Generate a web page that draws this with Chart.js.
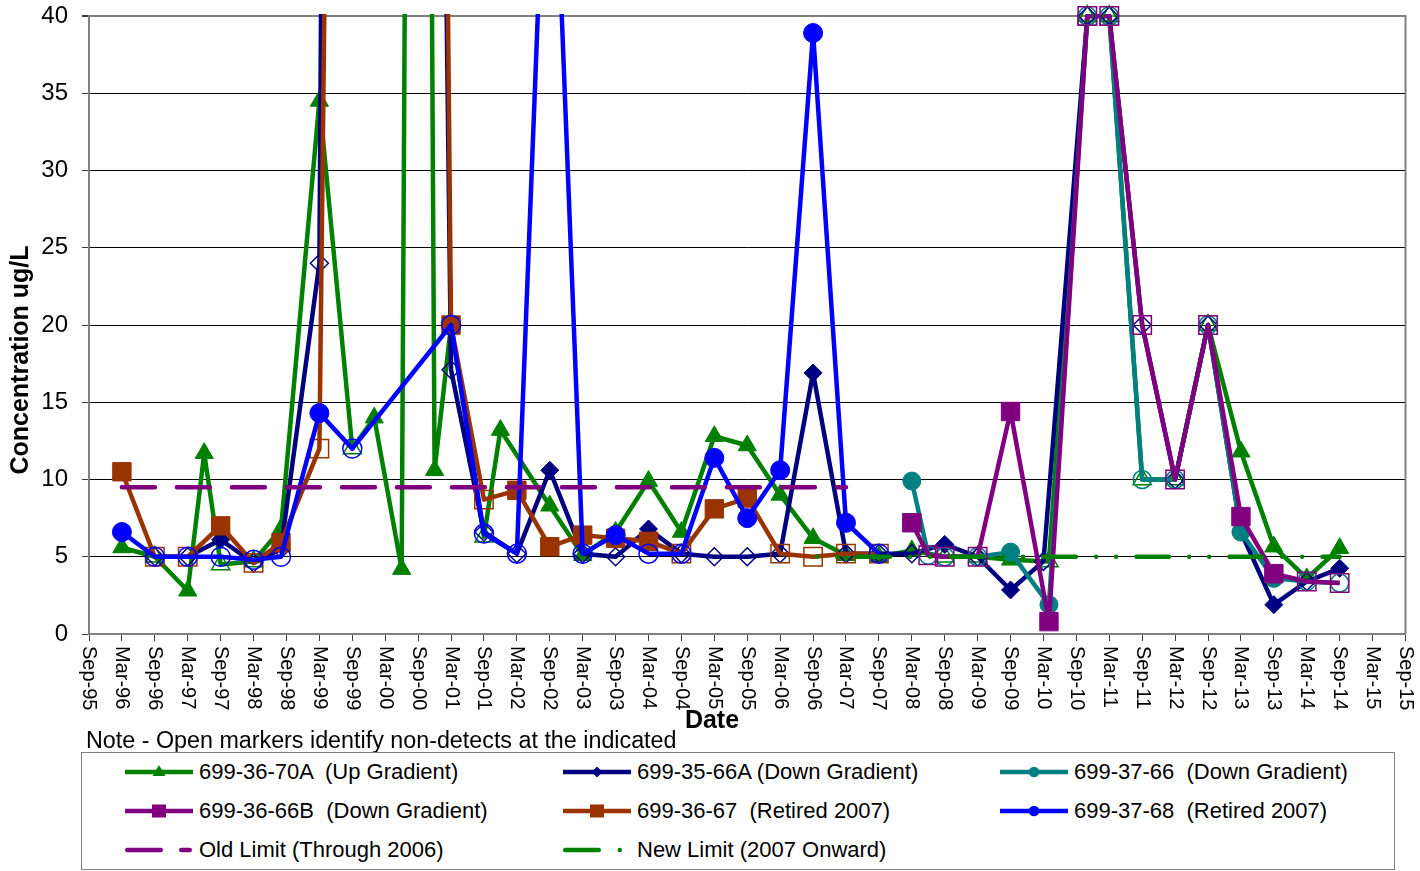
<!DOCTYPE html>
<html>
<head>
<meta charset="utf-8">
<title>Concentration by well</title>
<script src="https://cdn.jsdelivr.net/npm/chart.js@4.4.0/dist/chart.umd.min.js"></script>
<style>
    body { margin: 0; background: #fff; }
    #wrap { position: relative; width: 1420px; height: 871px; font-family: 'Liberation Sans', Arial, sans-serif; color: #000; }
    #chart { position: absolute; left: 0; top: 0; }
    #note { position: absolute; left: 86px; top: 727px; font-size: 23.3px; line-height: 26px; white-space: pre; }
    #legend { position: absolute; left: 81px; top: 752px; width: 1314px; height: 118px; border: 1px solid #808080; box-sizing: border-box; background: #fff; }
    .item { position: absolute; height: 26px; display: flex; align-items: center; font-size: 22px; white-space: pre; }
    .item svg { margin-right: 6px; flex: none; }
</style>
</head>
<body>
<div id="wrap">
    <canvas id="chart" width="1420" height="871"></canvas>
    <div id="note">Note - Open markers identify non-detects at the indicated</div>
    <div id="legend"></div>
</div>
<script>
// x axis: half-year ticks from Sep-95 to Sep-15
const tickLabels = ['Sep-95', 'Mar-96', 'Sep-96', 'Mar-97', 'Sep-97', 'Mar-98', 'Sep-98', 'Mar-99', 'Sep-99', 'Mar-00',
    'Sep-00', 'Mar-01', 'Sep-01', 'Mar-02', 'Sep-02', 'Mar-03', 'Sep-03', 'Mar-04', 'Sep-04', 'Mar-05',
    'Sep-05', 'Mar-06', 'Sep-06', 'Mar-07', 'Sep-07', 'Mar-08', 'Sep-08', 'Mar-09', 'Sep-09', 'Mar-10',
    'Sep-10', 'Mar-11', 'Sep-11', 'Mar-12', 'Sep-12', 'Mar-13', 'Sep-13', 'Mar-14', 'Sep-14', 'Mar-15', 'Sep-15'];

// 699-36-70A (Up Gradient)  -- open = non-detect
const w3670aDates = ['1996-03', '1996-09', '1997-03', '1997-06', '1997-09', '1998-03', '1998-08', '1999-03', '1999-09', '2000-01',
    '2000-06', '2000-09', '2000-12', '2001-03', '2001-09', '2001-12', '2002-09', '2003-03', '2003-09', '2004-03',
    '2004-09', '2005-03', '2005-09', '2006-03', '2006-09', '2007-03', '2007-09', '2008-03', '2008-09', '2009-03',
    '2009-09', '2010-04', '2010-11', '2011-03', '2011-09', '2012-03', '2012-09', '2013-03', '2013-09', '2014-03', '2014-09'];
const w3670aValues = [5.6, 5.0, 2.8, 11.7, 4.5, 4.7, 6.8, 34.5, 12.0, 14.0,
    4.2, 200, 10.6, 20, 6.3, 13.2, 8.3, 5.1, 6.6, 9.9,
    6.6, 12.8, 12.2, 9.0, 6.2, 5.1, 5.0, 5.4, 5.0, 5.0,
    4.8, 4.7, 40, 40, 10, 10, 20, 11.8, 5.65, 3.6, 5.55];
const w3670aOpen = [0, 1, 0, 0, 1, 1, 0, 0, 1, 0,
    0, 0, 0, 0, 1, 0, 0, 0, 0, 0,
    0, 0, 0, 0, 0, 0, 0, 0, 1, 1,
    0, 1, 1, 1, 1, 1, 1, 0, 0, 0, 0];

// 699-35-66A (Down Gradient)
const w3566aDates = ['1996-09', '1997-03', '1997-09', '1998-03', '1998-08', '1999-03', '1999-09', '2000-09', '2001-03', '2001-09',
    '2002-03', '2002-09', '2003-03', '2003-09', '2004-03', '2004-09', '2005-03', '2005-09', '2006-03', '2006-09',
    '2007-03', '2007-09', '2008-03', '2008-09', '2009-03', '2009-09', '2010-03', '2010-11', '2011-03', '2011-09',
    '2012-03', '2012-09', '2013-03', '2013-09', '2014-03', '2014-09'];
const w3566aValues = [5.0, 5.0, 6.1, 4.6, 5.5, 24, 350, 190, 17.1, 6.6,
    5.2, 10.6, 5.2, 5.0, 6.8, 5.2, 5.0, 5.0, 5.2, 16.9,
    5.2, 5.2, 5.2, 5.8, 5.0, 2.85, 4.7, 40, 40, 20,
    10, 20, 6.6, 1.9, 3.4, 4.25];
const w3566aOpen = [1, 1, 0, 1, 1, 1, 0, 0, 1, 1,
    1, 0, 1, 1, 0, 1, 1, 1, 1, 0,
    1, 1, 1, 0, 1, 0, 1, 1, 1, 1,
    1, 1, 0, 0, 1, 0];

// 699-37-66 (Down Gradient)
const w3766Dates = ['2008-03', '2008-06', '2008-09', '2009-03', '2009-09', '2010-04', '2010-11', '2011-03', '2011-09', '2012-03',
    '2012-09', '2013-03', '2013-09', '2014-03', '2014-09'];
const w3766Values = [9.9, 5.1, 5.0, 5.0, 5.3, 1.9, 40, 40, 10, 10, 20, 6.6, 3.6, 3.4, 3.3];
const w3766Open = [0, 1, 1, 1, 0, 0, 1, 1, 1, 1, 1, 0, 0, 1, 1];

// 699-36-66B (Down Gradient)
const w3666bDates = ['2008-03', '2008-06', '2008-09', '2009-03', '2009-09', '2010-04', '2010-11', '2011-03', '2011-09', '2012-03',
    '2012-09', '2013-03', '2013-09', '2014-03', '2014-09'];
const w3666bValues = [7.2, 5.1, 5.0, 5.0, 14.4, 0.8, 40, 40, 20, 10, 20, 7.6, 3.9, 3.4, 3.3];
const w3666bOpen = [0, 1, 1, 1, 0, 0, 1, 1, 1, 1, 1, 0, 0, 1, 1];

// 699-36-67 (Retired 2007)
const w3667Dates = ['1996-03', '1996-09', '1997-03', '1997-09', '1998-03', '1998-08', '1999-03', '1999-09', '2000-09', '2001-03',
    '2001-09', '2002-03', '2002-09', '2003-03', '2003-09', '2004-03', '2004-09', '2005-03', '2005-09', '2006-03',
    '2006-09', '2007-03', '2007-09'];
const w3667Values = [10.5, 5.0, 5.0, 7.0, 4.6, 5.9, 12.0, 200, 240, 20,
    8.7, 9.3, 5.65, 6.4, 6.2, 6.0, 5.2, 8.1, 8.8, 5.2,
    5.0, 5.2, 5.2];
const w3667Open = [0, 1, 1, 0, 1, 0, 1, 0, 0, 0,
    1, 0, 0, 0, 0, 0, 1, 0, 0, 1,
    1, 1, 1];

// 699-37-68 (Retired 2007)
const w3768Dates = ['1996-03', '1996-09', '1997-03', '1997-09', '1998-03', '1998-08', '1999-03', '1999-09', '2001-03', '2001-09',
    '2002-03', '2002-09', '2003-03', '2003-09', '2004-03', '2004-09', '2005-03', '2005-09', '2006-03', '2006-09',
    '2007-03', '2007-09'];
const w3768Values = [6.6, 5.0, 5.0, 5.0, 4.8, 5.0, 14.3, 12.0, 20, 6.5,
    5.2, 60, 5.2, 6.4, 5.2, 5.2, 11.4, 7.5, 10.6, 38.9,
    7.2, 5.2];
const w3768Open = [0, 1, 1, 1, 1, 1, 0, 1, 1, 1,
    1, 0, 1, 0, 1, 1, 0, 0, 0, 0,
    0, 1];

// limits
const oldLimitDates = ['1996-03', '2007-03'];
const oldLimitValues = [9.5, 9.5];
const newLimitDates = ['2006-09', '2014-09'];
const newLimitValues = [5, 5];

const yMax = 40;

// months since Sep-1995
function monthIndex(d) {
    const [y, m] = d.split('-').map(Number);
    return (y - 1995) * 12 + (m - 9);
}

function makeSeries(label, color, style, radius, dates, values, open) {
    return {
        label: label,
        data: dates.map((d, i) => ({ x: monthIndex(d), y: values[i] })),
        borderColor: color,
        backgroundColor: color,
        borderWidth: 4.5,
        borderJoinStyle: 'round',
        pointStyle: style,
        pointRadius: radius,
        pointBackgroundColor: open.map(o => o ? 'rgba(0,0,0,0)' : color),
        pointBorderColor: color,
        pointBorderWidth: open.map(o => o ? 1.5 : 1),
        clip: { left: 0, top: 2, right: 0, bottom: 0 },
        tension: 0
    };
}

function makeLimit(label, color, dates, values, dash, offset) {
    return {
        label: label,
        data: dates.map((d, i) => ({ x: monthIndex(d), y: values[i] })),
        borderColor: color,
        backgroundColor: color,
        borderWidth: 4.5,
        borderDash: dash,
        borderDashOffset: offset,
        borderCapStyle: 'round',
        pointRadius: 0,
        isLimit: true
    };
}

const datasets = [
    makeSeries('699-36-70A  (Up Gradient)', '#008000', 'triangle', 10.5, w3670aDates, w3670aValues, w3670aOpen),
    makeSeries('699-35-66A (Down Gradient)', '#000080', 'rectRot', 9, w3566aDates, w3566aValues, w3566aOpen),
    makeSeries('699-37-66  (Down Gradient)', '#008080', 'circle', 9, w3766Dates, w3766Values, w3766Open),
    makeSeries('699-36-66B  (Down Gradient)', '#800080', 'rect', 13, w3666bDates, w3666bValues, w3666bOpen),
    makeSeries('699-36-67  (Retired 2007)', '#993300', 'rect', 13, w3667Dates, w3667Values, w3667Open),
    makeSeries('699-37-68  (Retired 2007)', '#0000FF', 'circle', 9.5, w3768Dates, w3768Values, w3768Open),
    makeLimit('Old Limit (Through 2006)', '#800080', oldLimitDates, oldLimitValues, [33, 22], 0),
    makeLimit('New Limit (2007 Onward)', '#008000', newLimitDates, newLimitValues, [32.5, 20.25, 0.01, 20, 0.01, 20.25], 48.75)
];
// later series are painted on top, like the original
datasets.forEach((ds, i) => { ds.order = datasets.length - i; });

const FONT = '"Liberation Sans", Arial, sans-serif';

// top and right border of the plot
const frame = {
    id: 'frame',
    beforeDatasetsDraw(chart) {
        const { ctx, chartArea: a } = chart;
        ctx.save();
        ctx.strokeStyle = '#808080';
        ctx.lineWidth = 2;
        ctx.beginPath();
        ctx.moveTo(a.left, a.top);
        ctx.lineTo(a.right, a.top);
        ctx.lineTo(a.right, a.bottom);
        ctx.stroke();
        ctx.restore();
    }
};

// markers sitting on the 40 line are not cut by the plot clip
const topMarkers = {
    id: 'topMarkers',
    afterDatasetsDraw(chart) {
        chart.data.datasets.forEach((ds, di) => {
            const meta = chart.getDatasetMeta(di);
            meta.data.forEach((pt, i) => {
                if (ds.data[i].y === yMax) pt.draw(chart.ctx, chart.chartArea);
            });
        });
    }
};

// x tick labels read top-to-bottom, plus the axis titles
const axisText = {
    id: 'axisText',
    afterDraw(chart) {
        const { ctx, chartArea: a } = chart;
        const xs = chart.scales.x;
        ctx.save();
        ctx.fillStyle = '#000';
        ctx.font = '20px ' + FONT;
        ctx.textAlign = 'left';
        ctx.textBaseline = 'middle';
        xs.ticks.forEach(t => {
            ctx.save();
            ctx.translate(xs.getPixelForValue(t.value), a.bottom + 12);
            ctx.rotate(Math.PI / 2);
            ctx.fillText(t.label, 0, 0);
            ctx.restore();
        });
        ctx.textAlign = 'center';
        ctx.font = 'bold 25px ' + FONT;
        ctx.fillText('Date', 712, 721);
        ctx.translate(21, 360);
        ctx.rotate(-Math.PI / 2);
        ctx.font = 'bold 25px ' + FONT;
        ctx.fillText('Concentration ug/L', 0, 0);
        ctx.restore();
    }
};

Chart.defaults.font.family = FONT;

new Chart(document.getElementById('chart'), {
    type: 'line',
    data: { datasets: datasets },
    options: {
        responsive: false,
        animation: false,
        events: [],
        layout: { padding: { top: 16, right: 12, bottom: 137, left: 0 } },
        plugins: { legend: { display: false }, tooltip: { enabled: false } },
        scales: {
            x: {
                type: 'linear',
                min: 0,
                max: 240,
                afterFit: s => { s.height = 100; s.paddingLeft = 0; s.paddingRight = 0; },
                ticks: {
                    stepSize: 6,
                    autoSkip: false,
                    maxTicksLimit: 100,
                    minRotation: 90,
                    maxRotation: 90,
                    color: 'rgba(0,0,0,0)',
                    callback: v => tickLabels[v / 6]
                },
                grid: { drawOnChartArea: false, tickLength: 7, tickColor: '#404040' },
                border: { color: '#808080', width: 2 }
            },
            y: {
                min: 0,
                max: yMax,
                afterFit: s => { s.width = 89; s.paddingTop = 0; s.paddingBottom = 0; },
                ticks: { stepSize: 5, color: '#000', font: { size: 24 }, padding: 14 },
                grid: {
                    color: c => c.tick.value === yMax ? '#808080' : '#000',
                    lineWidth: c => c.tick.value === yMax ? 2 : 1,
                    tickLength: 7,
                    tickColor: '#404040'
                },
                border: { color: '#808080', width: 2 }
            }
        }
    },
    plugins: [frame, topMarkers, axisText]
});

// legend: three columns, built from the datasets
function markerSvg(ds) {
    const c = ds.borderColor;
    if (ds.isLimit) {
        const dash = ds.borderDash.length > 2 ? '33.5 21 0.01 100' : '33.5 20.5';
        const end = ds.borderDash.length > 2 ? 57 : 64.75;
        return `<line x1="2.25" y1="10" x2="${end}" y2="10" stroke="${c}" stroke-width="4.5" stroke-linecap="round" stroke-dasharray="${dash}"/>`;
    }
    let m = '';
    if (ds.pointStyle === 'triangle') m = `<polygon points="34,3 40.5,14 27.5,14" fill="${c}"/>`;
    else if (ds.pointStyle === 'rectRot') m = `<polygon points="34,4.5 39.5,10 34,15.5 28.5,10" fill="${c}"/>`;
    else if (ds.pointStyle === 'rect') m = `<rect x="27" y="3.5" width="14" height="13" fill="${c}"/>`;
    else m = `<circle cx="34" cy="10" r="5.3" fill="${c}"/>`;
    return `<line x1="0" y1="10" x2="68" y2="10" stroke="${c}" stroke-width="4.5"/>` + m;
}

const colX = [43, 481, 918];
const rowY = [6, 45, 84];
document.getElementById('legend').innerHTML = datasets.map((ds, i) => `
    <div class="item" style="left:${colX[i % 3]}px; top:${rowY[Math.floor(i / 3)]}px">
        <svg width="68" height="20">${markerSvg(ds)}</svg><span>${ds.label}</span>
    </div>
`).join('');
</script>
</body>
</html>
